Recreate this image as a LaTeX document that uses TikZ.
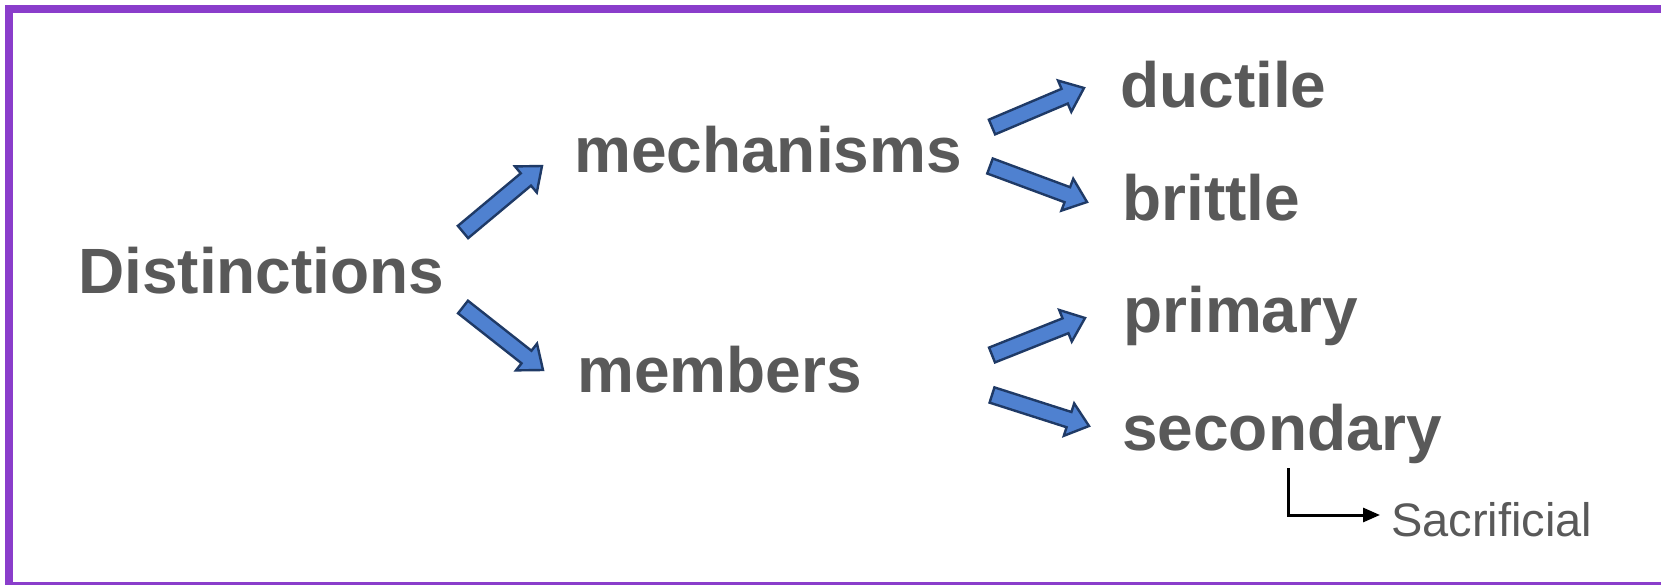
\documentclass[tikz,border=0pt]{standalone}
\usepackage{fontspec}
\setmainfont{Liberation Sans}
\usetikzlibrary{calc,arrows.meta}

\definecolor{framepurple}{HTML}{8A3DCB}
\definecolor{labelgray}{HTML}{595959}
\definecolor{arrowfill}{HTML}{4F81D0}
\definecolor{arrowedge}{HTML}{1F3A66}

\tikzset{
  bigword/.style={anchor=base west, inner sep=0pt, text=labelgray,
    font=\fontsize{64}{70}\selectfont\bfseries},
  smallword/.style={anchor=base west, inner sep=0pt, text=labelgray,
    font=\fontsize{47}{52}\selectfont},
  blockarr/.style={fill=arrowfill, draw=arrowedge, line width=2.4pt, line join=miter},
  elbow/.style={line width=3pt, black, -{Triangle[length=17pt,width=14pt]}}
}

% block arrow from tail point #1 to tip point #2
\newcommand\blockarrow[2]{%
  \filldraw[blockarr]
    ($(#1)!8pt!90:(#2)$)
    -- ($(#2)!21pt!(#1)!8pt!-90:(#1)$)
    -- ($(#2)!21pt!(#1)!17pt!-90:(#1)$)
    -- (#2)
    -- ($(#2)!21pt!(#1)!17pt!90:(#1)$)
    -- ($(#2)!21pt!(#1)!8pt!90:(#1)$)
    -- ($(#1)!8pt!-90:(#2)$)
    -- cycle;}

\begin{document}
\begin{tikzpicture}[x=1pt, y=-1pt]
  \useasboundingbox (0,0) rectangle (1661,584);
  \fill[white] (0,0) rectangle (1661,584);
  % frame (open on the right and lower edge)
  \draw[framepurple, line width=8pt] (9,9) rectangle (1680,586);

  % labels
  \node[bigword] (dist) at (78,293) {Distinctions};
  \node[bigword] (mech) at (574,172) {mechanisms};
  \node[bigword] (memb) at (577,392) {members};
  \node[bigword] (duct) at (1120,107) {ductile};
  \node[bigword] (brit) at (1122,220) {brittle};
  \node[bigword] (prim) at (1123,332) {primary};
  \node[bigword] (seco) at (1122,450) {secondary};
  \node[smallword] (sacr) at (1391,536) {Sacrificial};

  % arrow end points
  \coordinate (a1s) at (463,232); \coordinate (a1e) at (542,166);
  \coordinate (a2s) at (463,307); \coordinate (a2e) at (543,370);
  \coordinate (a3s) at (992,127); \coordinate (a3e) at (1084,88);
  \coordinate (a4s) at (990,166); \coordinate (a4e) at (1087,202);
  \coordinate (a5s) at (992,355); \coordinate (a5e) at (1085,318);
  \coordinate (a6s) at (992,395); \coordinate (a6e) at (1089,426);

  \blockarrow{a1s}{a1e}
  \blockarrow{a2s}{a2e}
  \blockarrow{a3s}{a3e}
  \blockarrow{a4s}{a4e}
  \blockarrow{a5s}{a5e}
  \blockarrow{a6s}{a6e}

  % elbow pointer to the sub-label
  \coordinate (el0) at (1288,468);
  \coordinate (el1) at (1380,515);
  \draw[elbow] (el0) |- (el1);
\end{tikzpicture}
\end{document}
